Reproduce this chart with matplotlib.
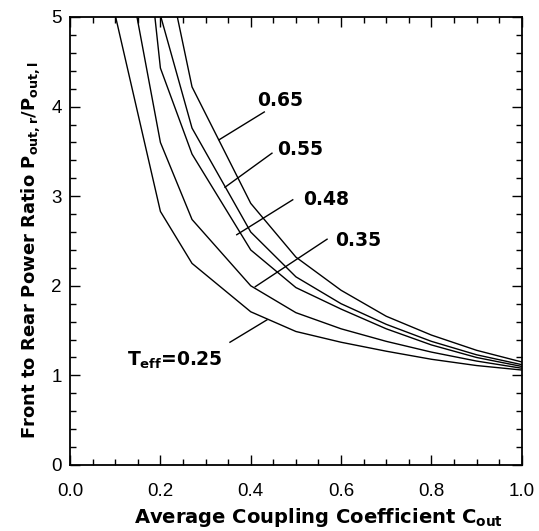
import numpy as np
import matplotlib
matplotlib.use('Agg')
import matplotlib.pyplot as plt
from matplotlib.ticker import MultipleLocator

plt.rcParams['font.family'] = 'Liberation Sans'
plt.rcParams['mathtext.fontset'] = 'custom'
plt.rcParams['mathtext.bf'] = 'DejaVu Sans:bold'
plt.rcParams['mathtext.rm'] = 'DejaVu Sans:bold'
plt.rcParams['mathtext.default'] = 'bf'

# coupling coefficient values
c_out = [0.1, 0.2, 0.27, 0.4, 0.5, 0.6, 0.7, 0.8, 0.9, 1.0]

# front to rear ratio for each T_eff (values above 5 are clipped by the axes)
ratio_025 = [5.02, 2.83, 2.25, 1.71, 1.49, 1.37, 1.27, 1.18, 1.11, 1.06]
ratio_035 = [6.3, 3.60, 2.74, 2.00, 1.70, 1.52, 1.38, 1.26, 1.16, 1.08]
ratio_048 = [9.1, 4.43, 3.47, 2.40, 1.98, 1.74, 1.52, 1.34, 1.20, 1.10]
ratio_055 = [np.nan, 5.02, 3.76, 2.60, 2.10, 1.80, 1.57, 1.38, 1.23, 1.12]
ratio_065 = [np.nan, 5.90, 4.22, 2.92, 2.32, 1.95, 1.66, 1.45, 1.28, 1.15]

curves = [ratio_025, ratio_035, ratio_048, ratio_055, ratio_065]

# curve labels: text, text position, leader line start -> end
labels = [r'T$_{\rm eff}$=0.25', '0.35', '0.48', '0.55', '0.65']
label_xy = [(0.338, 1.17), (0.587, 2.50), (0.517, 2.96), (0.459, 3.52), (0.415, 4.07)]
leader_from = [(0.354, 1.37), (0.569, 2.52), (0.493, 2.96), (0.447, 3.48), (0.43, 3.94)]
leader_to = [(0.436, 1.62), (0.41, 1.99), (0.369, 2.57), (0.343, 3.10), (0.33, 3.63)]
label_ha = ['right', 'left', 'left', 'left', 'left']

fig = plt.figure(figsize=(5.39, 5.31), dpi=100)
ax = fig.add_axes([0.130, 0.1243, 0.838, 0.8437])

lw = 1.0
for r in curves:
  ax.plot(c_out, r, c='k', linewidth=lw)

for i in range(len(labels)):
  ax.plot([leader_from[i][0], leader_to[i][0]], [leader_from[i][1], leader_to[i][1]], c='k', linewidth=lw)
  ax.text(label_xy[i][0], label_xy[i][1], labels[i], fontsize=13.5, fontweight='bold',
          family='DejaVu Sans', ha=label_ha[i], va='center')

ax.set_xlim(0, 1)
ax.set_ylim(0, 5)
ax.xaxis.set_major_locator(MultipleLocator(0.2))
ax.xaxis.set_minor_locator(MultipleLocator(0.05))
ax.yaxis.set_major_locator(MultipleLocator(1))
ax.yaxis.set_minor_locator(MultipleLocator(0.2))
ax.xaxis.set_major_formatter(plt.FormatStrFormatter('%.1f'))
ax.tick_params(which='both', direction='in', top=True, right=True, labelsize=13.5, width=1.0)
ax.tick_params(which='major', length=7)
ax.tick_params(which='minor', length=4)
ax.tick_params(axis='x', which='major', pad=13)
ax.tick_params(axis='y', which='major', pad=6)
for s in ax.spines.values():
  s.set_linewidth(1.3)

ax.set_xlabel(r'Average Coupling Coefficient C$_{\rm out}$', fontsize=14, fontweight='bold',
              family='DejaVu Sans')
ax.xaxis.set_label_coords(0.55, -0.092)
ax.set_ylabel(r'Front to Rear Power Ratio P$_{\rm out,r}$/P$_{\rm out,l}$', fontsize=13, fontweight='bold',
              family='DejaVu Sans')
ax.yaxis.set_label_coords(-0.062, 0.48)

fig.savefig('out.png', dpi=100)
